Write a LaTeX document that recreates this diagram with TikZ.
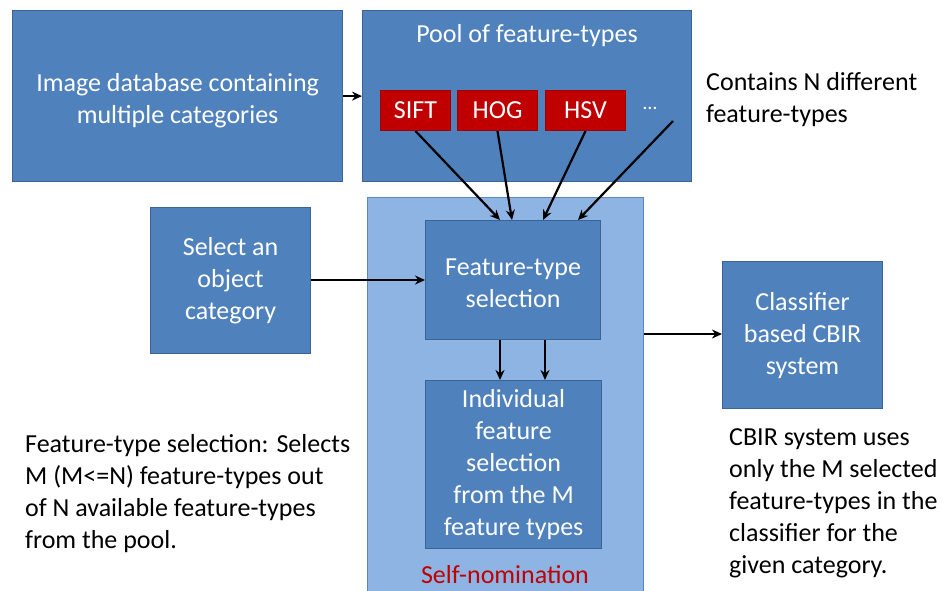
\documentclass[tikz,border=0pt]{standalone}
\usepackage{fontspec}
\setmainfont{Carlito}
\usetikzlibrary{arrows.meta,calc}
\definecolor{boxfill}{HTML}{4F81BD}
\definecolor{boxline}{HTML}{3A6496}
\definecolor{lightfill}{HTML}{8EB4E3}
\definecolor{lightline}{HTML}{5F87BD}
\definecolor{featred}{HTML}{C00000}
\definecolor{featline}{HTML}{A00000}
\definecolor{nomred}{HTML}{C00000}
\tikzset{
  base/.style={font=\fontsize{26}{32}\selectfont},
  bluebox/.style={base, draw=boxline, fill=boxfill, line width=1.2pt, text=white, align=center, anchor=north west, inner sep=0pt},
  boxtext/.style={base, text=white, align=center, inner sep=0pt},
  outerbox/.style={draw=lightline, fill=lightfill, line width=1.2pt, anchor=north west, inner sep=0pt},
  featbox/.style={base, draw=featline, fill=featred, line width=1pt, text=white, anchor=north west, inner sep=0pt, minimum width=#1, minimum height=40pt},
  note/.style={base, text=black, align=left, anchor=north west, inner sep=0pt},
  arr/.style={-{Stealth[length=10pt,width=9pt]}, line width=2.2pt, black}
}
\begin{document}
\begin{tikzpicture}[x=1pt,y=-1pt]
\useasboundingbox (0,0) rectangle (947,590);
\begin{scope}
\clip (0,0) rectangle (947,590);
\node[outerbox, minimum width=276pt, minimum height=410pt] (self) at (367,197) {};
\end{scope}
\node[bluebox, minimum width=330pt, minimum height=171pt] (db) at (12,10) {};
\node[boxtext] (dbtext) at ($(db.center)+(0,5)$) {Image database containing\\multiple categories};
\node[bluebox, minimum width=329pt, minimum height=171pt] (pool) at (362,10) {};
\node[boxtext] (pooltitle) at (527,36) {Pool of feature-types};
\node[featbox=70pt] (sift) at (380,90) {SIFT};
\node[featbox=80pt] (hog) at (457,90) {HOG};
\node[featbox=80pt] (hsv) at (545,90) {HSV};
\node[text=white, font=\fontsize{20}{24}\selectfont] (dots) at (650,108) {\dots};
\coordinate (dotsend) at (673,121);
\node[note] (contains) at (706,72) {Contains N different\\feature-types};
\node[bluebox, minimum width=175pt, minimum height=119pt] (fts) at (425,220) {};
\node[boxtext] (ftstext) at ($(fts.center)+(0,3)$) {Feature-type\\selection};
\node[bluebox, minimum width=176pt, minimum height=168pt] (ind) at (425,380) {Individual\\feature\\selection\\from the M\\feature types};
\node[base, text=nomred] (nom) at (505,575) {Self-nomination};
\node[bluebox, minimum width=160pt, minimum height=146pt] (sel) at (150,207) {Select an\\object\\category};
\node[bluebox, minimum width=160pt, minimum height=147pt] (cls) at (722,261) {Classifier\\based CBIR\\system};
\node[note] (leftnote) at (25,434) {Feature-type selection: Selects\\M (M<=N) feature-types out\\of N available feature-types\\from the pool.};
\node[note] (rightnote) at (729,428) {CBIR system uses\\only the M selected\\feature-types in the\\classifier for the\\given category.};
% connectors
\draw[arr] (db.east) -- (pool.west |- db.east);
\draw[arr] (sift.south) -- ($(fts.north west)+(75,0)$);
\draw[arr] (hog.south) -- ($(fts.north west)+(87,0)$);
\draw[arr] (hsv.south) -- ($(fts.north west)+(118,0)$);
\draw[arr] (dotsend) -- ($(fts.north west)+(153,0)$);
\draw[arr] (sel.east |- 0,280) -- (fts.west |- 0,280);
\draw[arr] ($(fts.south west)+(75,0)$) -- ($(ind.north west)+(75,0)$);
\draw[arr] ($(fts.south west)+(120,0)$) -- ($(ind.north west)+(120,0)$);
\draw[arr] (self.east |- 0,334) -- (cls.west |- 0,334);
\end{tikzpicture}
\end{document}
